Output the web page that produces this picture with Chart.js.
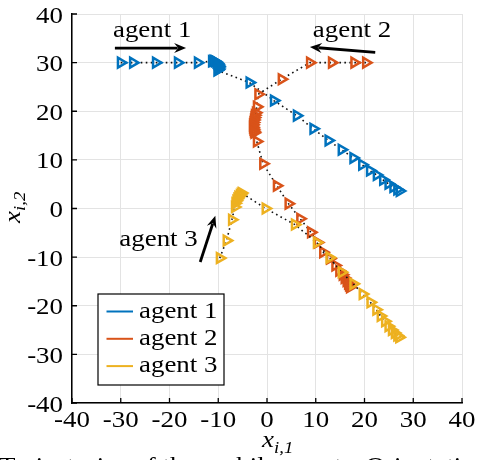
<!DOCTYPE html>
<html>
<head>
<meta charset="utf-8">
<script src="https://cdn.jsdelivr.net/npm/chart.js@4.4.0/dist/chart.umd.min.js"></script>
<style>
  html, body { margin: 0; padding: 0; background: #fff; }
</style>
</head>
<body>
<canvas id="traj" width="479" height="460"></canvas>
<script>
// trajectories (x_i1, x_i2)
const agentNames = ['agent 1', 'agent 2', 'agent 3'];
const agentColors = ['#0072BD', '#D95319', '#EDB120'];
const axisTicks = [-40, -30, -20, -10, 0, 10, 20, 30, 40];

const agent1X = [-30, -27.5, -22.8, -18.3, -14.2, -11.3, -11.0, -10.7, -10.4, -10.2, -10.0, -9.9, -9.9, -10.0, -10.2,
  -3.6, 1.4, 6.1, 9.5, 12.6, 15.3, 17.7, 19.5, 21.1, 22.5, 23.8, 24.9, 25.9, 26.7, 27.2];
const agent1Y = [30, 30, 30, 30, 30, 30.3, 30.4, 30.3, 30.1, 29.8, 29.5, 29.2, 28.9, 28.6, 28.4,
  25.9, 22.2, 19.1, 16.4, 14.0, 12.1, 10.4, 9.0, 7.8, 6.9, 5.9, 5.1, 4.4, 3.9, 3.6];

const agent2X = [20.3, 17.9, 13.3, 8.8, 3.0, -1.8, -2.1, -2.3, -2.5, -2.6, -2.7, -2.8, -2.9, -2.9, -2.8, -2.7, -2.6,
  -2.1, -0.8, 2.0, 4.4, 6.8, 9.0, 10.4, 11.5, 12.9, 14.0, 14.8, 15.5, 15.9, 16.3, 16.6, 16.8, 17.0];
const agent2Y = [30, 30, 30, 30, 26.6, 23.5, 20.9, 19.7, 19.2, 18.7, 18.2, 17.7, 17.2, 16.7, 16.3, 15.9, 15.6,
  13.8, 9.2, 4.7, 1.0, -2.1, -4.9, -7.0, -9.0, -10.3, -11.7, -12.8, -13.6, -14.3, -14.9, -15.4, -15.8, -16.2];

const agent3X = [-9.7, -8.3, -7.2, -6.6, -6.5, -6.3, -6.1, -5.9, -5.6, -5.4, -5.2,
  -0.3, 5.7, 10.2, 12.8, 15.3, 17.7, 19.6, 21.2, 22.4, 23.3, 24.2, 24.9, 25.6, 26.2, 26.7, 27.1];
const agent3Y = [-10.2, -6.6, -2.3, 0.3, 1.1, 1.6, 2.0, 2.4, 2.7, 3.0, 3.2,
  0.0, -3.3, -7.0, -10.1, -13.1, -15.5, -17.6, -19.3, -20.8, -22.1, -23.2, -24.2, -25.0, -25.6, -26.1, -26.5];

const FONT = "'Liberation Serif', 'Times New Roman', serif";
const STRETCH = 1.17;

function toPoints(xs, ys) {
  return xs.map((x, i) => ({ x: x, y: ys[i] }));
}

function txt(ctx, str, x, y, size, align, italic) {
  ctx.save();
  ctx.font = (italic ? 'italic ' : '') + size + 'px ' + FONT;
  ctx.textBaseline = 'alphabetic';
  ctx.textAlign = 'left';
  const w = ctx.measureText(str).width * STRETCH;
  let x0 = x;
  if (align === 'center') x0 = x - w / 2;
  if (align === 'right') x0 = x - w;
  ctx.translate(x0, y);
  ctx.scale(STRETCH, 1);
  ctx.fillStyle = '#000';
  ctx.fillText(str, 0, 0);
  ctx.restore();
  return w;
}

function arrow(ctx, x1, y1, x2, y2) {
  const ang = Math.atan2(y2 - y1, x2 - x1);
  const len = 12, half = 5;
  ctx.save();
  ctx.strokeStyle = '#000';
  ctx.fillStyle = '#000';
  ctx.lineWidth = 2.8;
  ctx.beginPath();
  ctx.moveTo(x1, y1);
  ctx.lineTo(x2 - Math.cos(ang) * len * 0.7, y2 - Math.sin(ang) * len * 0.7);
  ctx.stroke();
  ctx.translate(x2, y2);
  ctx.rotate(ang);
  ctx.beginPath();
  ctx.moveTo(0, 0);
  ctx.lineTo(-len, -half);
  ctx.lineTo(-len * 0.65, 0);
  ctx.lineTo(-len, half);
  ctx.closePath();
  ctx.fill();
  ctx.restore();
}

const decorations = {
  id: 'decorations',
  afterDraw(chart) {
    const ctx = chart.ctx;
    const a = chart.chartArea;
    const sx = chart.scales.x, sy = chart.scales.y;

    // inward tick marks
    ctx.save();
    ctx.strokeStyle = '#000';
    ctx.lineWidth = 1.3;
    axisTicks.forEach(v => {
      const px = sx.getPixelForValue(v);
      const py = sy.getPixelForValue(v);
      ctx.beginPath();
      ctx.moveTo(px, a.bottom); ctx.lineTo(px, a.bottom - 5);
      ctx.moveTo(a.left, py); ctx.lineTo(a.left + 5, py);
      ctx.stroke();
    });
    ctx.restore();

    // tick labels
    axisTicks.forEach(v => {
      txt(ctx, String(v), sx.getPixelForValue(v), a.bottom + 24, 23, 'center');
      txt(ctx, String(v), a.left - 9, sy.getPixelForValue(v) + 8.5, 23, 'right');
    });

    // axis titles
    txt(ctx, 'x', 262, 447, 23, 'left', true);
    txt(ctx, 'i,1', 274, 453, 16, 'left', true);
    ctx.save();
    ctx.translate(20, 223);
    ctx.rotate(-Math.PI / 2);
    txt(ctx, 'x', 0, 0, 23, 'left', true);
    txt(ctx, 'i,2', 12, 5, 16, 'left', true);
    ctx.restore();

    // annotations
    txt(ctx, 'agent 1', sx.getPixelForValue(-31.6), sy.getPixelForValue(35.3), 23, 'left');
    arrow(ctx, sx.getPixelForValue(-31.2), sy.getPixelForValue(33.0), sx.getPixelForValue(-16.6), sy.getPixelForValue(33.0));
    txt(ctx, 'agent 2', sx.getPixelForValue(9.4), sy.getPixelForValue(35.3), 23, 'left');
    arrow(ctx, sx.getPixelForValue(22.2), sy.getPixelForValue(32.1), sx.getPixelForValue(8.8), sy.getPixelForValue(33.2));
    txt(ctx, 'agent 3', sx.getPixelForValue(-14.2), sy.getPixelForValue(-7.8), 23, 'right');
    arrow(ctx, sx.getPixelForValue(-13.7), sy.getPixelForValue(-11.0), sx.getPixelForValue(-10.6), sy.getPixelForValue(-1.5));

    // legend box
    const bx = a.left + 26, by = a.bottom - 109, bw = 126, bh = 91;
    ctx.save();
    ctx.fillStyle = '#fff';
    ctx.fillRect(bx, by, bw, bh);
    ctx.strokeStyle = '#000';
    ctx.lineWidth = 1.2;
    ctx.strokeRect(bx, by, bw, bh);
    agentNames.forEach((name, i) => {
      const ly = by + 17.5 + i * 27.3;
      ctx.strokeStyle = agentColors[i];
      ctx.lineWidth = 2;
      ctx.beginPath();
      ctx.moveTo(bx + 8.5, ly); ctx.lineTo(bx + 35, ly);
      ctx.stroke();
      txt(ctx, name, bx + 41, ly + 6, 23, 'left');
    });
    ctx.restore();

    // caption, cut off by the image edge
    txt(ctx, 'Trajectories of the mobile agents. Orientation is indicated', -1, 473, 23, 'left');
  }
};

const datasets = [[agent1X, agent1Y], [agent2X, agent2Y], [agent3X, agent3Y]].map((d, i) => ({
  label: agentNames[i],
  data: toPoints(d[0], d[1]),
  showLine: true,
  borderColor: '#111',
  borderWidth: 1.6,
  borderDash: [1.6, 3.4],
  tension: 0,
  pointStyle: 'triangle',
  rotation: 90,
  pointRadius: 5.6,
  pointBorderWidth: 2.5,
  pointBorderColor: agentColors[i],
  pointBackgroundColor: 'rgba(255,255,255,0)',
  order: 2 - i
}));

new Chart(document.getElementById('traj'), {
  type: 'scatter',
  data: { datasets: datasets },
  options: {
    responsive: false,
    animation: false,
    layout: { padding: { top: 14, right: 17, left: 0, bottom: 0 } },
    plugins: { legend: { display: false }, tooltip: { enabled: false } },
    scales: {
      x: {
        type: 'linear', min: -40, max: 40,
        ticks: { stepSize: 10, display: false },
        grid: { color: '#e3e3e3', lineWidth: 1, drawTicks: false },
        border: { color: '#000', width: 1.5 },
        afterFit(s) { s.height = 57; }
      },
      y: {
        type: 'linear', min: -40, max: 40,
        ticks: { stepSize: 10, display: false },
        grid: { color: '#e3e3e3', lineWidth: 1, drawTicks: false },
        border: { color: '#000', width: 1.5 },
        afterFit(s) { s.width = 72; }
      }
    }
  },
  plugins: [decorations]
});
</script>
</body>
</html>
